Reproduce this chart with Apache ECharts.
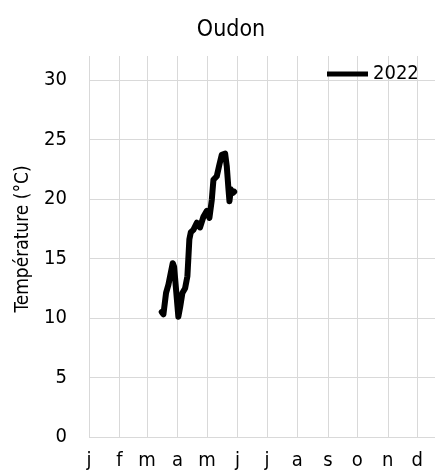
<!DOCTYPE html>
<html>
<head>
<meta charset="utf-8">
<script src="https://cdn.jsdelivr.net/npm/echarts@6/dist/echarts.min.js"></script>
<style>
  html, body { margin: 0; padding: 0; background: #fff; }
  #chart { width: 435px; height: 471px; }
</style>
</head>
<body>
<div id="chart"></div>
<script>
// day of year (0 = 1 Jan 2022) and temperature
var days = [74, 75.7, 78.4, 80.8, 85.2, 86.6, 90.9, 92.7, 95, 97.8, 100.1, 102.1, 103.6,
  106.2, 109.7, 113, 116.4, 119.9, 122.5, 124.9, 126.6, 130, 132.7, 135.1, 138.5,
  140.2, 141.9, 142.9, 144.3, 146.3, 147.7];
var temps = [10.5, 10.3, 12.1, 12.8, 14.6, 14.3, 10.1, 10.9, 12.1, 12.5, 13.5, 16.6, 17.2,
  17.4, 18.0, 17.6, 18.5, 19.0, 18.4, 19.9, 21.6, 21.9, 22.9, 23.7, 23.8,
  22.7, 20.8, 19.8, 20.8, 20.5, 20.6];

var monthStarts = [0, 31, 59, 90, 120, 151, 181, 212, 243, 273, 304, 334];
var monthLabels = ["j", "f", "m", "a", "m", "j", "j", "a", "s", "o", "n", "d"];
var yTicks = [0, 5, 10, 15, 20, 25, 30];

var font = "'DejaVu Sans Condensed', 'Liberation Sans', sans-serif";

var chartDom = document.getElementById("chart");
var myChart = echarts.init(chartDom);

var points = days.map(function (d, i) {
  return [d, temps[i]];
});

var option = {
  animation: false,
  title: {
    text: "Oudon",
    left: 226,
    top: 14,
    textAlign: "center",
    textStyle: { fontFamily: font, fontSize: 23, fontWeight: "normal", color: "#000" },
  },
  legend: {
    left: 327,
    top: 64,
    padding: 0,
    icon: "rect",
    itemWidth: 41,
    itemHeight: 5,
    data: ["2022"],
    textStyle: { fontFamily: font, fontSize: 20, color: "#000" },
  },
  grid: {
    left: 89,
    top: 56,
    right: 0,
    height: 382,
    containLabel: false,
  },
  graphic: [
    {
      type: "text",
      x: 23,
      y: 239,
      rotation: Math.PI / 2,
      style: {
        text: "Température (°C)",
        fontFamily: font,
        fontSize: 19,
        fill: "#000",
        align: "center",
        verticalAlign: "middle",
      },
    },
  ],
  xAxis: {
    type: "value",
    min: 0,
    max: 352,
    axisLine: { show: false },
    axisTick: { show: false, customValues: monthStarts },
    splitLine: { show: true, lineStyle: { color: "#d9d9d9", width: 1 } },
    axisLabel: {
      customValues: monthStarts,
      margin: 14,
      fontFamily: font,
      fontSize: 20,
      color: "#000",
      formatter: function (v) {
        return monthLabels[monthStarts.indexOf(v)];
      },
    },
  },
  yAxis: {
    type: "value",
    min: 0,
    max: 32,
    axisLine: { show: false },
    axisTick: { show: false, customValues: yTicks },
    splitLine: { show: true, lineStyle: { color: "#d9d9d9", width: 1 } },
    axisLabel: {
      customValues: yTicks,
      margin: 22,
      fontFamily: font,
      fontSize: 20,
      color: "#000",
    },
  },
  series: [
    {
      name: "2022",
      type: "line",
      data: points,
      showSymbol: false,
      symbol: "none",
      color: "#000",
      lineStyle: { color: "#000", width: 6, join: "round", cap: "round" },
    },
  ],
};

myChart.setOption(option);
</script>
</body>
</html>
